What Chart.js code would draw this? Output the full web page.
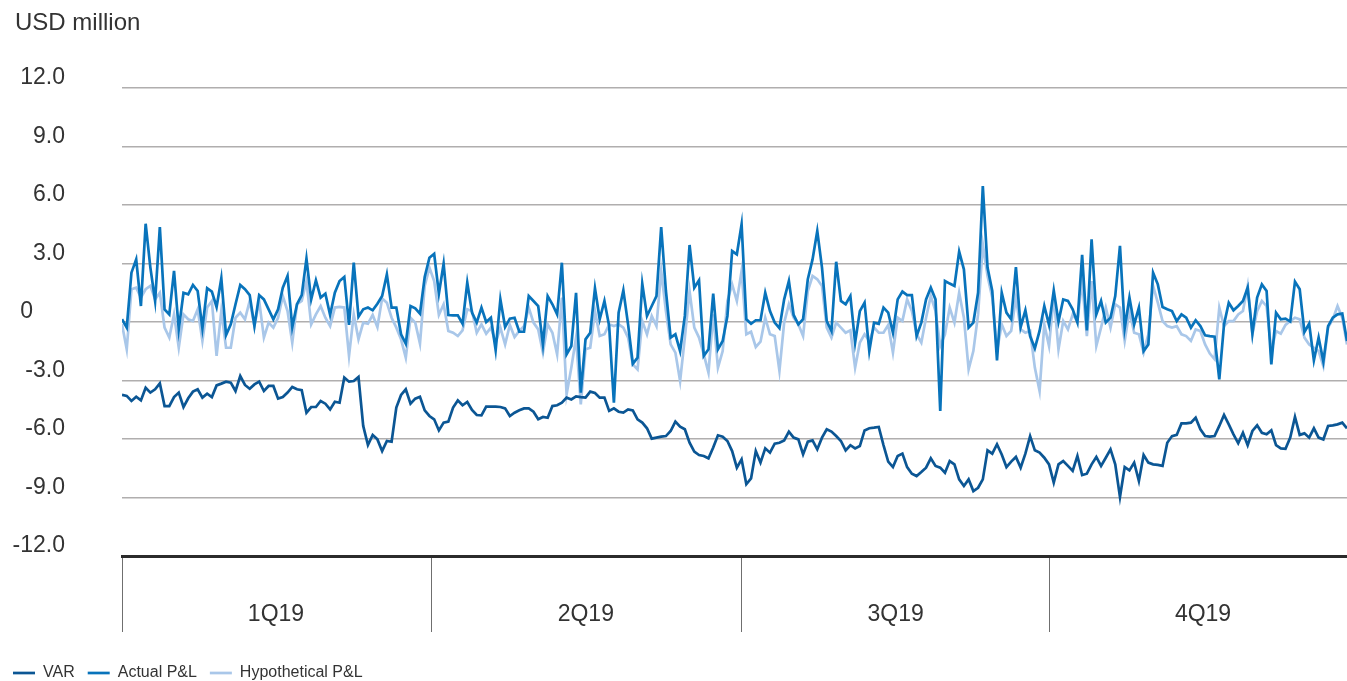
<!DOCTYPE html>
<html>
<head>
<meta charset="utf-8">
<script src="https://cdn.jsdelivr.net/npm/chart.js@4.4.1/dist/chart.umd.min.js"></script>
<style>
  html, body { margin: 0; padding: 0; background: #fff; }
  #wrap { position: relative; width: 1347px; height: 681px; }
</style>
</head>
<body>
<div id="wrap"><canvas id="chart"></canvas></div>
<script>
// Quarter names and the trading-day index where each quarter starts
const quarters = ['1Q19', '2Q19', '3Q19', '4Q19'];
const quarterStarts = [0, 65.5, 131, 196];

// Daily values, USD million
const varSeries = [
  -3.74,-3.79,-4.05,-3.83,-4.02,-3.37,-3.62,-3.45,-3.15,-4.31,-4.31,-3.85,-3.62,-4.36,-3.91,-3.57,-3.45,-3.88,-3.68,-3.85,-3.25,-3.16,-3.06,-3.11,-3.54,-2.77,-3.23,-3.42,-3.2,-3.06,-3.54,-3.28,-3.28,-3.93,-3.85,-3.62,-3.33,-3.45,-3.5,-4.65,-4.36,-4.36,
  -4.05,-4.19,-4.48,-4.09,-4.14,-2.85,-3.06,-3.03,-2.82,-5.33,-6.31,-5.79,-6.02,-6.62,-6.1,-6.14,-4.39,-3.74,-3.45,-4.19,-3.93,-3.83,-4.53,-4.82,-4.99,-5.56,-5.16,-5.11,-4.39,-4.02,-4.27,-4.1,-4.51,-4.77,-4.79,-4.34,-4.34,-4.34,-4.36,-4.43,-4.82,-4.65,-4.53,-4.43,
  -4.43,-4.6,-4.99,-4.87,-4.91,-4.31,-4.27,-4.14,-3.88,-3.97,-3.81,-3.85,-3.88,-3.57,-3.64,-3.88,-3.88,-4.56,-4.43,-4.6,-4.65,-4.48,-4.53,-4.99,-5.16,-5.45,-5.98,-5.93,-5.88,-5.85,-5.59,-5.11,-5.37,-5.5,-6.19,-6.65,-6.82,-6.87,-6.99,-6.44,-5.81,-5.88,-6.1,
  -6.62,-7.47,-7.04,-8.32,-8.02,-6.62,-7.21,-6.48,-6.7,-6.24,-6.19,-6.07,-5.62,-5.93,-6.02,-6.79,-6.14,-6.07,-6.53,-5.93,-5.5,-5.62,-5.85,-6.1,-6.58,-6.32,-6.48,-6.36,-5.56,-5.45,-5.42,-5.38,-6.31,-7.16,-7.44,-6.87,-6.75,-7.44,-7.78,-7.9,-7.69,-7.47,-6.99,
  -7.38,-7.47,-7.73,-7.13,-7.3,-8.07,-8.41,-8.07,-8.67,-8.5,-8.07,-6.58,-6.75,-6.27,-6.79,-7.44,-7.16,-6.92,-7.47,-6.75,-5.85,-6.58,-6.7,-6.96,-7.3,-8.24,-7.3,-7.13,-7.38,-7.64,-6.87,-7.85,-7.78,-7.3,-6.92,-7.38,-6.96,-6.53,-7.3,-8.97,-7.44,-7.61,-7.21,
  -8.15,-6.82,-7.21,-7.3,-7.33,-7.38,-6.19,-5.85,-5.79,-5.2,-5.2,-5.16,-4.91,-5.5,-5.85,-5.88,-5.85,-5.33,-4.77,-5.25,-5.76,-6.22,-5.68,-6.32,-5.59,-5.3,-5.68,-5.76,-5.56,-6.32,-6.48,-6.5,-5.93,-4.87,-5.79,-5.71,-5.93,-5.45,-5.93,-6.02,-5.33,-5.3,-5.25,-5.16,-5.45
];
const actualPL = [
  0.14,-0.29,2.53,3.21,0.82,5.04,2.79,1.08,4.87,0.65,0.39,2.62,-0.38,1.5,1.42,1.9,1.59,-0.32,1.73,1.56,0.77,2.24,-0.67,-0.12,0.91,1.9,1.68,1.38,-0.21,1.38,1.16,0.65,0.14,0.65,1.76,2.36,-0.26,0.91,1.38,3.25,1.16,2.14,
  1.25,1.45,0.36,1.5,2.1,2.31,-0.15,3.04,0.27,0.65,0.74,0.6,0.94,1.33,2.44,0.74,0.74,-0.63,-1.11,0.82,0.7,0.43,2.31,3.3,3.5,1.45,2.99,0.36,0.34,0.34,-0.09,2.02,0.48,-0.03,0.74,0.0,0.22,-1.44,1.16,-0.26,0.17,0.22,-0.5,-0.5,
  1.33,1.08,0.82,-1.15,1.33,0.91,0.39,3.04,-1.66,-1.23,1.5,-3.62,-0.89,-0.55,1.73,0.14,1.08,-0.21,-4.14,0.48,1.62,-0.12,-2.14,-1.83,1.97,0.31,0.82,1.33,4.87,1.59,-0.8,-0.63,-1.49,0.31,3.95,1.76,2.14,-1.74,-1.4,1.45,-1.4,-0.97,0.31,
  3.64,3.47,5.01,0.14,-0.09,0.09,0.09,1.5,0.56,-0.03,-0.32,1.16,2.1,0.36,-0.12,0.14,2.19,3.21,4.67,2.79,0.05,-0.46,3.09,1.08,0.91,1.33,-1.06,0.56,0.99,-1.49,-0.03,-0.09,0.74,0.48,-0.55,1.16,1.56,1.38,1.38,-0.72,-0.03,1.16,1.76,
  1.16,-4.56,2.1,1.97,1.85,3.61,2.7,-0.29,-0.03,1.5,6.97,2.79,1.59,-1.97,1.5,0.48,0.14,2.82,-0.26,0.6,-0.72,-1.35,-0.46,0.82,-0.15,1.62,0.02,1.16,1.08,0.65,-0.03,3.44,-0.43,4.24,0.39,1.08,-0.03,0.22,1.33,3.9,-0.32,1.25,-0.12,
  0.74,-1.49,-1.15,2.53,1.93,0.77,0.65,0.56,0.05,0.39,0.22,-0.29,0.09,-0.21,-0.68,-0.72,-0.75,-2.94,-0.12,0.99,0.6,0.82,1.08,1.76,-0.6,1.25,1.93,1.59,-2.17,0.48,0.14,0.17,0.02,2.07,1.68,-0.51,-0.09,-1.97,-0.8,-2.03,-0.21,0.22,0.39,0.43,-0.97
];
const hypotheticalPL = [
  -0.12,-1.4,1.68,1.76,1.25,1.68,1.85,1.16,1.5,-0.29,-0.8,0.39,-1.32,0.39,0.14,0.05,0.65,-0.97,0.74,1.08,-1.74,0.56,-1.32,-1.32,0.22,0.48,0.14,1.08,-0.21,1.08,-0.8,-0.03,-0.29,0.22,1.33,0.56,-1.06,0.91,1.08,2.1,-0.12,0.39,
  0.82,0.22,-0.21,0.74,0.77,0.74,-1.74,0.39,-0.89,-0.03,-0.09,0.36,-0.26,1.21,0.99,0.22,-0.29,-0.89,-1.83,0.22,-0.03,-1.11,1.85,2.79,2.1,0.36,0.91,-0.46,-0.55,-0.72,-0.43,0.65,0.56,-0.55,-0.12,-0.6,-0.29,-1.06,-0.29,-1.15,-0.15,-0.77,-0.46,-0.21,
  0.74,-0.03,-0.38,-1.57,-0.12,-0.55,-1.66,1.25,-3.71,-2.34,-0.8,-4.22,-1.4,-1.32,0.56,-0.72,-0.63,-0.12,-0.21,-0.12,-0.29,-0.8,-2.17,-2.43,0.05,-0.63,0.31,-0.21,2.62,0.56,-1.15,-1.57,-3.03,-0.8,1.59,-0.29,-0.8,-1.66,-2.6,0.39,-2.34,-1.49,1.08,
  1.93,1.08,2.62,-0.63,-0.5,-1.28,-1.01,0.22,-0.63,-0.72,-2.51,-0.03,0.91,0.22,-0.12,-0.72,1.59,2.36,2.19,1.85,-0.29,-0.8,-0.03,-0.29,-0.55,-0.43,-2.34,-1.06,-0.63,-0.97,-0.29,-0.55,-0.55,-0.15,-1.57,0.22,0.05,1.16,0.56,-0.63,-1.06,0.22,1.33,
  0.56,-1.23,-0.63,0.74,-0.03,1.5,0.22,-2.43,-1.49,0.39,3.98,2.36,1.25,-1.49,-0.12,-0.72,-0.46,1.25,-0.38,-0.55,-0.46,-2.34,-3.54,-0.12,-1.23,1.33,-1.4,0.05,-0.38,0.39,0.05,2.1,-0.72,2.1,-1.23,-0.29,0.74,-0.29,0.91,0.74,-0.97,0.56,-0.55,
  -0.63,-1.57,-0.63,1.85,0.99,0.05,-0.21,-0.29,-0.21,-0.63,-0.72,-0.97,-0.38,-0.46,-1.15,-1.62,-1.91,0.74,-0.21,0.05,0.05,0.39,0.56,1.85,-0.63,0.56,1.08,0.82,-1.49,-0.46,-0.6,-0.15,0.05,0.22,0.14,-0.8,-1.15,-1.32,-1.49,-2.26,-0.29,0.14,0.82,0.22,-1.15
];
const days = varSeries.map((_, i) => i);

const FONT = '"Liberation Sans", Arial, sans-serif';
Chart.defaults.font.family = FONT;
Chart.defaults.color = '#333';

// unit label in the top left corner
const unitLabel = {
  id: 'unitLabel',
  afterDraw(chart) {
    const ctx = chart.ctx;
    ctx.save();
    ctx.font = '24px ' + FONT;
    ctx.fillStyle = '#333';
    ctx.textBaseline = 'middle';
    ctx.fillText('USD million', 15, 23.5);
    ctx.restore();
  }
};

function series(label, data, color) {
  return {
    label: label,
    data: data,
    borderColor: color,
    backgroundColor: color,
    borderWidth: 2.7,
    pointBorderColor: color,   // legend marker uses the point style
    pointBorderWidth: 2.7
  };
}

new Chart(document.getElementById('chart'), {
  type: 'line',
  data: {
    labels: days,
    datasets: [
      series('VAR', varSeries, '#0b5694'),
      series('Actual P&L', actualPL, '#0873bb'),
      series('Hypothetical P&L', hypotheticalPL, '#a9c7e9')
    ]
  },
  options: {
    responsive: true,
    maintainAspectRatio: false,
    animation: false,
    layout: { padding: { top: 88, bottom: -10, left: 0, right: 0 } },
    elements: {
      point: { radius: 0 },
      line: { tension: 0 }
    },
    scales: {
      x: {
        type: 'linear',
        min: 0,
        max: days.length - 1,
        afterBuildTicks: s => { s.ticks = quarterStarts.map(v => ({ value: v })); },
        afterFit: s => { s.height = 96; },
        grid: { drawOnChartArea: false, tickLength: 76, color: '#6f6f6f', lineWidth: 1 },
        border: { display: true, color: '#2b2b2b', width: 3 },
        ticks: {
          callback: (v, i) => quarters[i],
          labelOffset: 154,
          padding: -31,
          autoSkip: false,
          maxRotation: 0,
          font: { size: 23 }
        }
      },
      y: {
        min: -12,
        max: 12,
        afterFit: s => { s.width = 122; },
        grid: { color: '#b0aeae', lineWidth: 1.5, drawTicks: false },
        border: { display: false },
        ticks: {
          stepSize: 3,
          padding: 57,
          labelOffset: -10,
          font: { size: 23 },
          callback: v => v === 0 ? '0\u2007\u2007 ' : v.toFixed(1)
        }
      }
    },
    plugins: {
      legend: {
        position: 'bottom',
        align: 'start',
        labels: {
          usePointStyle: true,
          pointStyle: 'line',
          pointStyleWidth: 22,
          padding: 13,
          color: '#333',
          font: { size: 16 }
        }
      },
      tooltip: { enabled: false }
    }
  },
  plugins: [unitLabel]
});
</script>
</body>
</html>
